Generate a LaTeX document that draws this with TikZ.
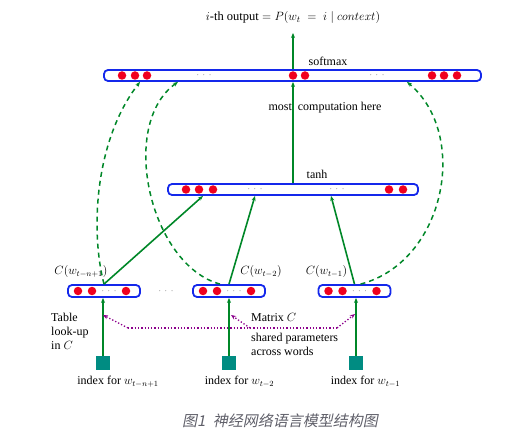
\documentclass[tikz,border=0pt]{standalone}
\usepackage{fontspec}
\setmainfont{Liberation Serif}
\newfontfamily\cjkfont[FakeSlant=0.2]{Noto Sans CJK SC}
\usetikzlibrary{arrows.meta}
\definecolor{netgreen}{RGB}{0,135,40}
\definecolor{barblue}{RGB}{20,40,235}
\definecolor{unitred}{RGB}{240,0,30}
\definecolor{idxteal}{RGB}{0,140,130}
\definecolor{sharedpurple}{RGB}{140,0,140}
\definecolor{capgray}{RGB}{95,95,105}

\tikzset{
	layer/.style={draw=barblue, line width=1.8pt, rounded corners=4pt, inner sep=0pt, minimum height=11pt},
	unit/.style={circle, fill=unitred, inner sep=0pt, minimum size=8.5pt},
	gap/.style={font=\small, text=black!70, inner sep=0pt},
	index/.style={fill=idxteal, inner sep=0pt, minimum size=14pt},
	feed/.style={-{Stealth[length=5pt,width=4pt]}, draw=netgreen, line width=1.6pt},
	skip/.style={-{Stealth[length=5pt,width=4pt]}, draw=netgreen, line width=1.5pt, dash pattern=on 5pt off 4pt},
	shared/.style={-{Stealth[length=5pt,width=4pt]}, draw=sharedpurple, line width=1.3pt, dotted},
	lbl/.style={font=\fontsize{12}{14}\selectfont, inner sep=0pt},
}

\begin{document}
\begin{tikzpicture}[x=1pt,y=-1pt]
	\useasboundingbox (0,0) rectangle (512,433);
	% layers
	\node (softmax) at (292.5,75.5) [layer, minimum width=377pt] {};
	\node (tanh) at (293,189.5) [layer, minimum width=250pt] {};
	\node (bar1) at (104,291) [layer, minimum width=72pt, minimum height=12pt] {};
	\node (bar2) at (229,291) [layer, minimum width=72pt, minimum height=12pt] {};
	\node (bar3) at (354.5,291) [layer, minimum width=72pt, minimum height=12pt] {};
	% units
	\foreach \x [count=\i] in {122,135,147,293,305,432,444,457}
		\node (s\i) at (\x,75.5) [unit] {};
	\node (sg1) at (204,75.5) [gap] {$\cdot\,\cdot\,\cdot$};
	\node (sg2) at (377,75.5) [gap] {$\cdot\,\cdot\,\cdot$};
	\foreach \x [count=\i] in {186,199,213,389,403}
		\node (h\i) at (\x,189.5) [unit] {};
	\node (hg1) at (255,189.5) [gap] {$\cdot\,\cdot\,\cdot$};
	\node (hg2) at (337,189.5) [gap] {$\cdot\,\cdot\,\cdot$};
	\foreach \b/\x in {1/67,2/192,3/317.5} {
		\node (c\b a) at (\x+11,291) [unit] {};
		\node (c\b b) at (\x+25,291) [unit] {};
		\node (c\b g) at (\x+42,291) [gap] {$\cdot\,\cdot\,\cdot$};
		\node (c\b c) at (\x+59,291) [unit] {};
	}
	\node (cg) at (166,291) [gap] {$\cdot\,\cdot\,\cdot$};
	% indices
	\node (i1) at (103,363) [index] {};
	\node (i2) at (229,363) [index] {};
	\node (i3) at (356,363) [index] {};
	% texts
	\node (title) at (293,18) [font=\fontsize{12.5}{14}\selectfont] {$i$-th output${}=P(w_t\;=\;i\;|\;context)$};
	\coordinate (out) at (293,33);
	\node (lsoft) at (328,61) [lbl] {softmax};
	\node (ltanh) at (317,174) [lbl] {tanh};
	\node (lmost) at (325,108) [lbl] {most\ \ computation here};
	\node (lc1) at (81,272) [lbl] {$C(w_{t-n+1})$};
	\node (lc2) at (261,272) [lbl] {$C(w_{t-2})$};
	\node (lc3) at (326.5,272) [lbl] {$C(w_{t-1})$};
	\node (li1) at (118,382) [lbl] {index for $w_{t-n+1}$};
	\node (li2) at (239.5,382) [lbl] {index for $w_{t-2}$};
	\node (li3) at (365.5,382) [lbl] {index for $w_{t-1}$};
	\node (ltable) at (51,331) [lbl, anchor=west, align=left] {Table\\look-up\\in $C$};
	\node (lmatrix) at (251,317) [lbl, anchor=west] {Matrix $C$};
	\node (lshared) at (251,344.5) [lbl, anchor=west, align=left] {shared parameters\\across words};
	\node (caption) at (280,421) [text=capgray, font=\cjkfont\fontsize{15}{17}\selectfont] {图1\enspace 神经网络语言模型结构图};
	% connectors
	\draw[feed] (softmax.north -| out) -- (out);
	\draw[feed, line width=2.2pt] (tanh.north) -- (tanh.north |- softmax.south);
	\draw[feed] (bar1.north) -- ([xshift=-90pt]tanh.south);
	\draw[feed] (bar2.north) -- ([xshift=-38pt]tanh.south);
	\draw[feed] (bar3.north) -- ([xshift=38pt]tanh.south);
	\draw[feed, line width=2pt] (i1.north) -- (i1.north |- bar1.south);
	\draw[feed, line width=2pt] (i2.north) -- (i2.north |- bar2.south);
	\draw[feed, line width=2pt] (i3.north) -- (i3.north |- bar3.south);
	\draw[skip] (bar1.north) .. controls (90,230) and (95,140) .. ([xshift=-152.5pt]softmax.south);
	\draw[skip] ([xshift=-9pt]bar2.north) .. controls (150,265) and (118,125) .. ([xshift=-114.5pt]softmax.south);
	\draw[skip] ([xshift=6pt]bar3.north) .. controls (445,262) and (470,135) .. ([xshift=114.5pt]softmax.south);
	% shared matrix
	\coordinate (m1) at (128,328);
	\coordinate (m2) at (250,328);
	\coordinate (m3) at (337,328);
	\coordinate (t1) at (103,315);
	\coordinate (t2) at (231,315);
	\coordinate (t3) at (355,314);
	\draw[shared, -] (m1) -- (m3);
	\draw[shared] (m1) -- (t1);
	\draw[shared] (m2) -- (t2);
	\draw[shared] (m3) -- (t3);
\end{tikzpicture}
\end{document}
